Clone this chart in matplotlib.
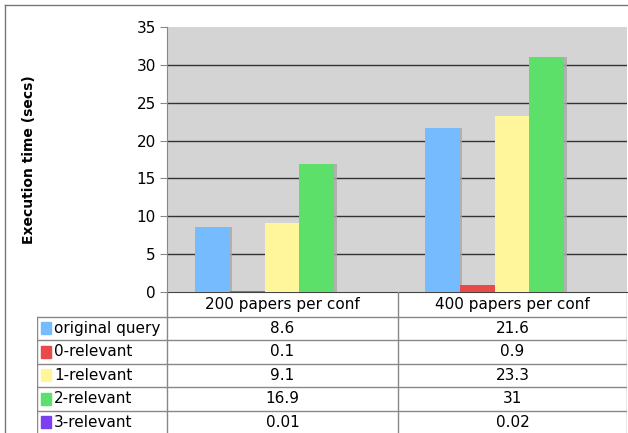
import numpy as np
import matplotlib.pyplot as plt
import matplotlib.patheffects as pe

# chart data
groups = ["200 papers per conf", "400 papers per conf"]
series = ["original query", "0-relevant", "1-relevant", "2-relevant", "3-relevant"]
times_200 = [8.6, 0.1, 9.1, 16.9, 0.01]
times_400 = [21.6, 0.9, 23.3, 31, 0.02]
colors = ["#77bbff", "#e84a4a", "#fff59a", "#5ce06a", "#7b3ff0"]
yticks = [0, 5, 10, 15, 20, 25, 30, 35]

W, H = 628, 433
fig = plt.figure(figsize=(W / 100, H / 100), dpi=100)

def fx(px):
    return px / W

def fy(py):
    return 1 - py / H

# outer frame (top and left edges visible)
fig.add_artist(plt.Line2D([fx(5), fx(5)], [fy(5), 0], color="#777777", lw=1))
fig.add_artist(plt.Line2D([fx(5), 1], [fy(5), fy(5)], color="#777777", lw=1))

# ---- bar chart ----
left, right, top, bottom = 167, 627, 27, 292
ax = fig.add_axes([fx(left), fy(bottom), fx(right - left), fy(top) - fy(bottom)])
ax.set_facecolor("#d4d4d4")

vals = np.array([times_200, times_400])
x = np.arange(len(groups))
bw = 0.76 / len(series)
for i, name in enumerate(series):
    offs = (i - (len(series) - 1) / 2) * bw
    ax.bar(x + offs, vals[:, i], bw, color=colors[i], zorder=3,
           path_effects=[pe.SimplePatchShadow(offset=(2, 0), shadow_rgbFace="#a8a8a8", alpha=0.8),
                         pe.Normal()])

ax.set_xlim(-0.5, len(groups) - 0.5)
ax.set_ylim(0, 35)
ax.set_yticks(yticks)
ax.set_yticklabels([str(t) for t in yticks], fontsize=11)
ax.set_xticks([])
for t in yticks[1:-1]:
    ax.axhline(t, color="#333333", lw=1, zorder=1)
for s in ["top", "right"]:
    ax.spines[s].set_visible(False)
ax.spines["left"].set_color("#888888")
ax.spines["bottom"].set_color("#444444")
ax.tick_params(axis="y", length=5, color="#888888", pad=3)

fig.text(fx(29), (fy(top) + fy(bottom)) / 2, "Execution time (secs)", rotation=90,
         ha="center", va="center", fontsize=10, fontweight="bold")

# ---- data table under the chart ----
tl, tr, tt, tb = 37, 627, 292, 433
tax = fig.add_axes([fx(tl), fy(tb), fx(tr - tl), fy(tt) - fy(tb)])
tax.set_xlim(tl, tr)
tax.set_ylim(tb, tt)
tax.axis("off")

col_edges = [tl, left, 398, tr]
row_h = 23.5
header_bottom = tt + row_h + 1
line_c = "#888888"

# vertical lines
tax.plot([left, left], [tt, tb], color=line_c, lw=1)
tax.plot([398, 398], [tt, tb], color=line_c, lw=1)
tax.plot([tr, tr], [tt, tb], color=line_c, lw=1)
tax.plot([tl, tl], [header_bottom, tb], color=line_c, lw=1)
# horizontal lines
tax.plot([tl, tr], [header_bottom, header_bottom], color=line_c, lw=1)
for k in range(1, len(series) + 1):
    yy = header_bottom + k * row_h
    tax.plot([tl, tr], [yy, yy], color=line_c, lw=1)

# header
for j, g in enumerate(groups):
    cx = (col_edges[j + 1] + col_edges[j + 2]) / 2
    tax.text(cx, tt + row_h / 2 + 1, g, ha="center", va="center", fontsize=11)

# rows
for i, name in enumerate(series):
    cy = header_bottom + (i + 0.5) * row_h
    tax.add_patch(plt.Rectangle((tl + 4, cy - 6), 10, 12, color=colors[i]))
    tax.text(tl + 17, cy, name, ha="left", va="center", fontsize=11)
    for j in range(len(groups)):
        cx = (col_edges[j + 1] + col_edges[j + 2]) / 2
        tax.text(cx, cy, f"{vals[j, i]:g}", ha="center", va="center", fontsize=11)

fig.savefig("out.png", dpi=100)
